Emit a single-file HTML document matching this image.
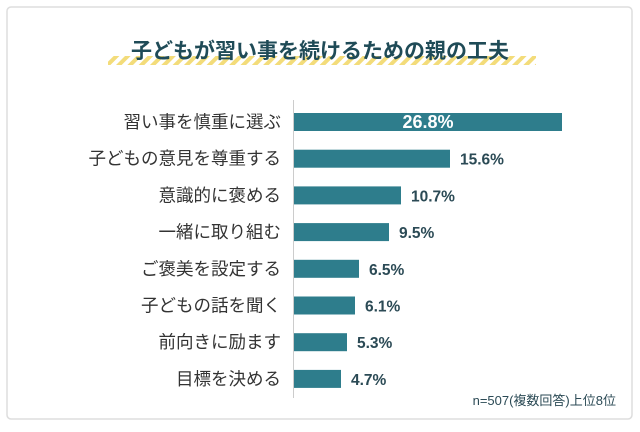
<!DOCTYPE html>
<html><head><meta charset="utf-8"><style>
body{margin:0;width:640px;height:427px;background:#fff;overflow:hidden;font-family:"Liberation Sans","Noto Sans CJK JP",sans-serif}
</style></head><body>
<svg width="640" height="427" xmlns="http://www.w3.org/2000/svg">
<defs><pattern id="st" width="8" height="8" patternUnits="userSpaceOnUse" patternTransform="rotate(45)"><rect width="4" height="8" fill="#f3dc7a"/></pattern></defs>
<rect x="7" y="7" width="625" height="412" rx="4" fill="#fff" stroke="#ddd" stroke-width="1.5"/>
<rect x="108" y="56" width="428" height="9" fill="url(#st)"/>
<text x="320" y="58" text-anchor="middle" font-size="21" font-weight="bold" fill="#1f4b57">子どもが習い事を続けるための親の工夫</text>
<line x1="293.5" y1="100" x2="293.5" y2="398" stroke="#ccc"/>
<g id="bars"></g>
<text x="616" y="405" text-anchor="end" font-size="13" fill="#2b4a55">n=507(複数回答)上位8位</text>
</svg>
<script>
const categories=["習い事を慎重に選ぶ","子どもの意見を尊重する","意識的に褒める","一緒に取り組む","ご褒美を設定する","子どもの話を聞く","前向きに励ます","目標を決める"];
const values=[26.8,15.6,10.7,9.5,6.5,6.1,5.3,4.7];
const labels=["26.8%","15.6%","10.7%","9.5%","6.5%","6.1%","5.3%","4.7%"];
const ns="http://www.w3.org/2000/svg";
const g=document.getElementById('bars');
const x=v=>v*10, y=i=>122+i*36.7;
categories.forEach((c,i)=>{
 const r=document.createElementNS(ns,'rect');
 r.setAttribute('x',294);r.setAttribute('y',y(i)-9);r.setAttribute('width',x(values[i]));r.setAttribute('height',18);r.setAttribute('fill','#2e7d8c');
 
 
 g.appendChild(r);
 const t=document.createElementNS(ns,'text');
 t.setAttribute('x',281);t.setAttribute('y',y(i)+6);t.setAttribute('text-anchor','end');t.setAttribute('font-size','17.5');t.setAttribute('fill','#333');
 t.textContent=c;
 
 
 g.appendChild(t);
 const v=document.createElementNS(ns,'text');
 const inside=i===0;
 v.setAttribute('x',inside?294+x(values[i])/2:294+x(values[i])+10);
 v.setAttribute('text-anchor',inside?'middle':'start');
 v.setAttribute('y',y(i)+6);v.setAttribute('font-size',inside?'18':'15.5');
 v.setAttribute('font-weight','bold');
 v.setAttribute('fill',inside?'#fff':'#2b4a55');
 v.textContent=labels[i];
 
 
 g.appendChild(v);
});
</script>
</body></html>
